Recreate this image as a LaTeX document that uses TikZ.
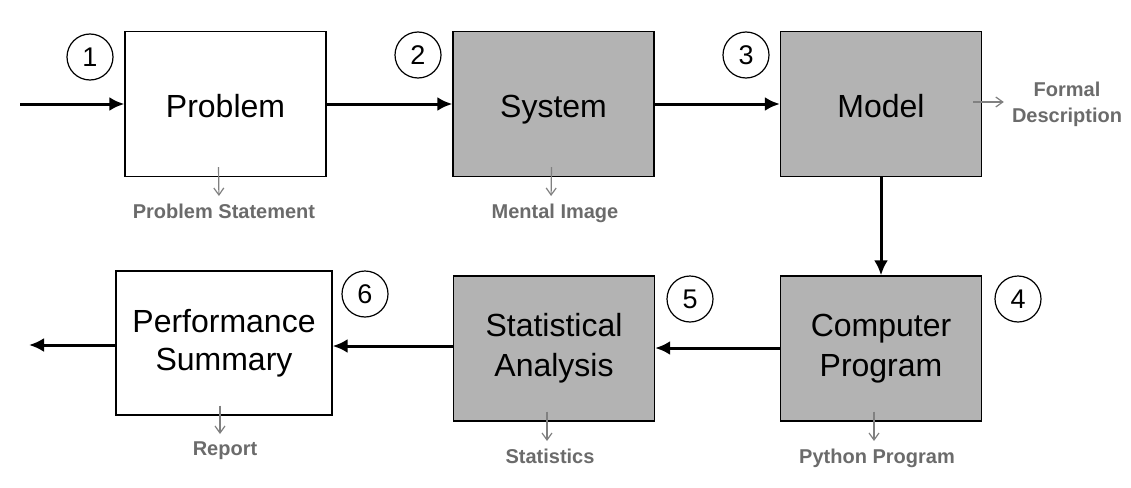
\documentclass[tikz,border=0pt]{standalone}
\usepackage{fontspec}
\setmainfont{Liberation Sans}
\usetikzlibrary{arrows.meta}

\definecolor{boxgray}{HTML}{B3B3B3}
\definecolor{labgray}{HTML}{6B6B6B}
\definecolor{tickgray}{HTML}{808080}

\begin{document}
\begin{tikzpicture}[
    x=1pt, y=-1pt,
    font=\fontsize{32}{38}\selectfont,
    box/.style={draw,line width=1.3pt,fill=white,align=center,inner sep=0pt,
        minimum width=201pt,minimum height=145pt},
    shaded/.style={box,fill=boxgray},
    oneline/.style={text height=27pt,text depth=1pt},
    num/.style={draw,circle,line width=1.2pt,minimum size=46pt,inner sep=0pt,
        font=\fontsize{27}{27}\selectfont},
    flow/.style={-{Latex[length=15pt,width=14pt]},line width=3pt},
    product/.style={-{Straight Barb[length=7pt,width=10pt]},line width=1.2pt,
        draw=tickgray,shorten >=4pt},
    lab/.style={font=\fontsize{20}{26}\selectfont\bfseries,text=labgray,
        align=center,inner sep=4pt}
]
\path[use as bounding box] (0,0) rectangle (1131,487);

% upper row
\node[box,oneline]    (problem) at (225.5,104) {Problem};
\node[shaded,oneline] (system)  at (553.5,104) {System};
\node[shaded,oneline] (model)   at (881,104)   {Model};
% lower row
\node[shaded] (program) at (881,348.5) {Computer\\[2pt]Program};
\node[shaded] (stats)   at (554,348.5) {Statistical\\[2pt]Analysis};
\node[box,minimum width=216pt,minimum height=144pt] (summary) at (224,343)
    {Performance\\Summary};

\foreach \n/\x/\y in {1/90/57,2/418/55,3/746/55,4/1018/299,5/690/299,6/365/294}
    \node[num] (c\n) at (\x,\y) {\n};

\coordinate (start) at (20,104);
\coordinate (finish) at (29,345);
\draw[flow] (start) -- (problem.west);
\draw[flow] (problem) -- (system);
\draw[flow] (system) -- (model);
\draw[flow] (model) -- (program);
\draw[flow] (program.west |- 0,348) -- (stats.east |- 0,348);
\draw[flow] (stats.west |- 0,346) -- (summary.east |- 0,346);
\draw[flow] (summary.west |- finish) -- (finish);

% what each step produces
\node[lab,anchor=north] (pstmt)  at (224,200)   {Problem Statement};
\node[lab,anchor=north] (mental) at (555,200)   {Mental Image};
\node[lab]              (formal) at (1067,104)  {Formal\\Description};
\node[lab,anchor=north] (python) at (877,445)   {Python Program};
\node[lab,anchor=north] (stat)   at (550,445)   {Statistics};
\node[lab,anchor=north] (report) at (225,438)   {Report};

\draw[product] ([xshift=-7pt,yshift=10pt]problem.south) -- (pstmt.north -| 219,0);
\draw[product] ([xshift=-2pt,yshift=10pt]system.south) -- (mental.north -| 551,0);
\draw[product] ([xshift=-9pt,yshift=2pt]model.east) -- (formal.west |- 0,102);
\draw[product] ([xshift=-7pt,yshift=10pt]program.south) -- (python.north -| 874,0);
\draw[product] ([xshift=-7pt,yshift=10pt]stats.south) -- (stat.north -| 547,0);
\draw[product] ([xshift=-4pt,yshift=10pt]summary.south) -- (report.north -| 220,0);
\end{tikzpicture}
\end{document}
